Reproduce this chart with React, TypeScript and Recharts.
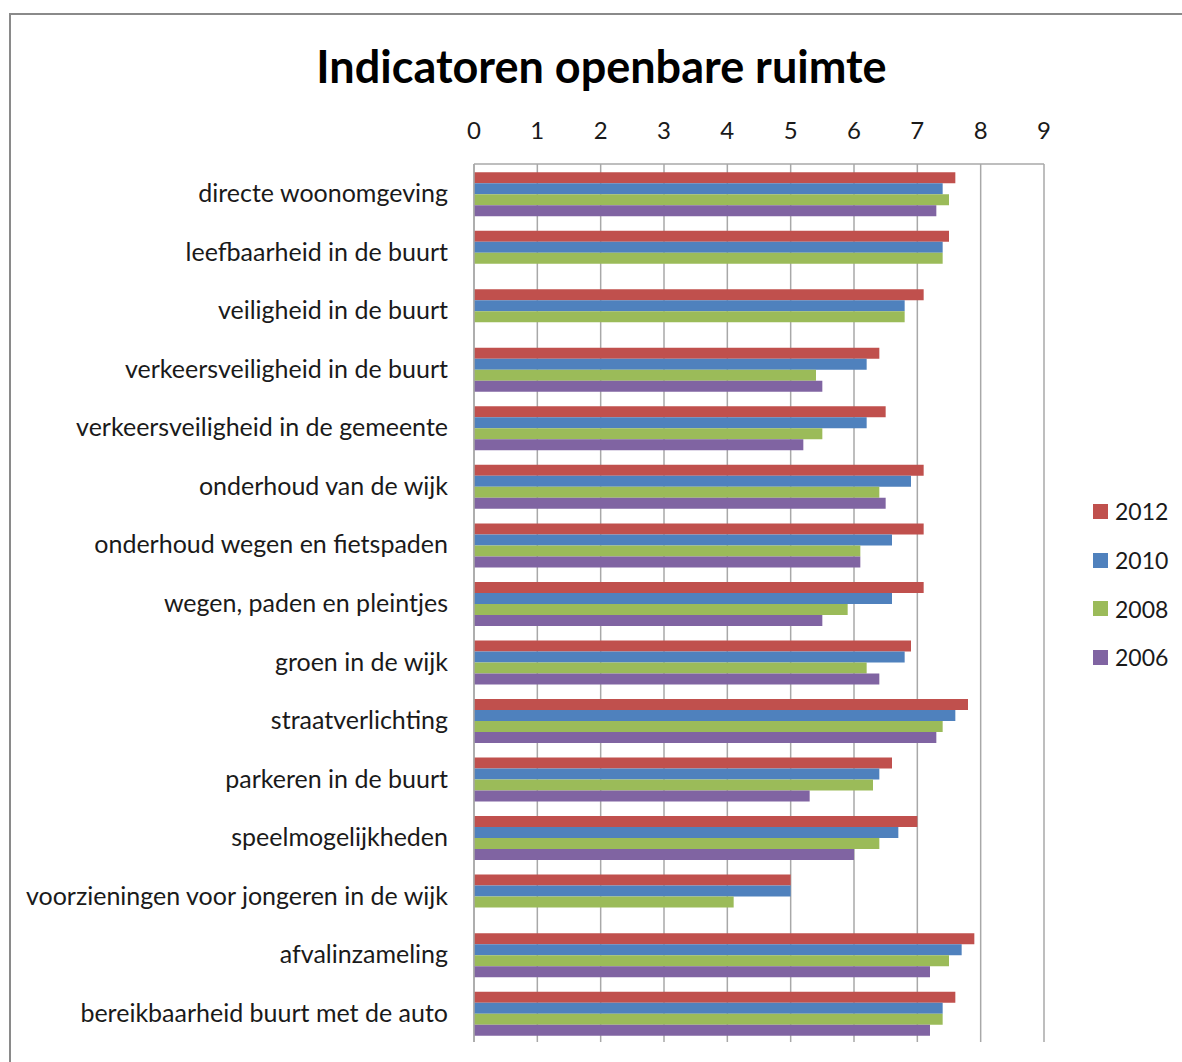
import React from 'react';
import { BarChart, Bar, XAxis, YAxis, CartesianGrid } from 'recharts';

const categories = [
  'directe woonomgeving',
  'leefbaarheid in de buurt',
  'veiligheid in de buurt',
  'verkeersveiligheid in de buurt',
  'verkeersveiligheid in de gemeente',
  'onderhoud van de wijk',
  'onderhoud wegen en fietspaden',
  'wegen, paden en pleintjes',
  'groen in de wijk',
  'straatverlichting',
  'parkeren in de buurt',
  'speelmogelijkheden',
  'voorzieningen voor jongeren in de wijk',
  'afvalinzameling',
  'bereikbaarheid buurt met de auto',
];

const values2012 = [7.6, 7.5, 7.1, 6.4, 6.5, 7.1, 7.1, 7.1, 6.9, 7.8, 6.6, 7.0, 5.0, 7.9, 7.6];
const values2010 = [7.4, 7.4, 6.8, 6.2, 6.2, 6.9, 6.6, 6.6, 6.8, 7.6, 6.4, 6.7, 5.0, 7.7, 7.4];
const values2008 = [7.5, 7.4, 6.8, 5.4, 5.5, 6.4, 6.1, 5.9, 6.2, 7.4, 6.3, 6.4, 4.1, 7.5, 7.4];
const values2006 = [7.3, null, null, 5.5, 5.2, 6.5, 6.1, 5.5, 6.4, 7.3, 5.3, 6.0, null, 7.2, 7.2];

const xTicks = [0, 1, 2, 3, 4, 5, 6, 7, 8, 9];

const seriesNames = ['2012', '2010', '2008', '2006'];
const seriesColors = ['#C0504D', '#4F81BD', '#9BBB59', '#8064A2'];

const data = categories.map((name, i) => ({
  name,
  '2012': values2012[i],
  '2010': values2010[i],
  '2008': values2008[i],
  '2006': values2006[i],
}));

const FONT = 'Lato, "Open Sans", sans-serif';

const YTick = (props: any) => {
  const { x, y, payload } = props;
  return (
    <text x={x} y={y + 9} textAnchor="end" fontFamily={FONT} fontSize={25} fill="#1a1a1a">
      {payload.value}
    </text>
  );
};

const XTick = (props: any) => {
  const { x, y, payload } = props;
  return (
    <text x={x} y={y} textAnchor="middle" fontFamily={FONT} fontSize={24} fill="#1a1a1a">
      {payload.value}
    </text>
  );
};

export default function App() {
  return (
    <div
      style={{
        position: 'absolute',
        left: 0,
        top: 0,
        width: 1182,
        height: 1062,
        overflow: 'hidden',
        background: '#fff',
      }}
    >
      <div
        style={{
          position: 'absolute',
          left: 9,
          top: 13,
          width: 1300,
          height: 1200,
          border: '2px solid #8a8a8a',
          boxSizing: 'border-box',
        }}
      />
      <div
        style={{
          position: 'absolute',
          left: 0,
          width: 1203,
          top: 36,
          textAlign: 'center',
          fontFamily: FONT,
          fontWeight: 700,
          fontSize: 45,
          color: '#000',
          lineHeight: '60px',
        }}
      >
        Indicatoren openbare ruimte
      </div>
      <div style={{ position: 'absolute', left: 0, top: 0 }}>
        <BarChart
          width={1182}
          height={1062}
          data={data}
          layout="vertical"
          margin={{ top: 134, right: 138, bottom: 20, left: 14 }}
          barCategoryGap="14%"
          barGap={0}
        >
          <CartesianGrid horizontal={false} vertical={true} stroke="#a8a8a8" strokeWidth={1.5} />
          <XAxis
            type="number"
            orientation="top"
            domain={[0, 9]}
            ticks={xTicks}
            interval={0}
            height={30}
            tickLine={false}
            tickSize={0}
            tickMargin={25}
            axisLine={{ stroke: '#a8a8a8', strokeWidth: 1.5 }}
            tick={<XTick />}
          />
          <YAxis
            type="category"
            dataKey="name"
            width={460}
            interval={0}
            tickLine={false}
            tickSize={0}
            tickMargin={26}
            axisLine={{ stroke: '#a8a8a8', strokeWidth: 1.5 }}
            tick={<YTick />}
          />
          {seriesNames.map((s, i) => (
            <Bar key={s} dataKey={s} name={s} fill={seriesColors[i]} isAnimationActive={false} />
          ))}
        </BarChart>
      </div>
      <div
        style={{
          position: 'absolute',
          left: 1093,
          top: 487,
          fontFamily: FONT,
          fontSize: 23,
          color: '#1a1a1a',
        }}
      >
        {seriesNames.map((s, i) => (
          <div key={s} style={{ display: 'flex', alignItems: 'center', height: 48.7 }}>
            <div style={{ width: 15, height: 15, background: seriesColors[i], marginRight: 7 }} />
            <span>{s}</span>
          </div>
        ))}
      </div>
    </div>
  );
}
